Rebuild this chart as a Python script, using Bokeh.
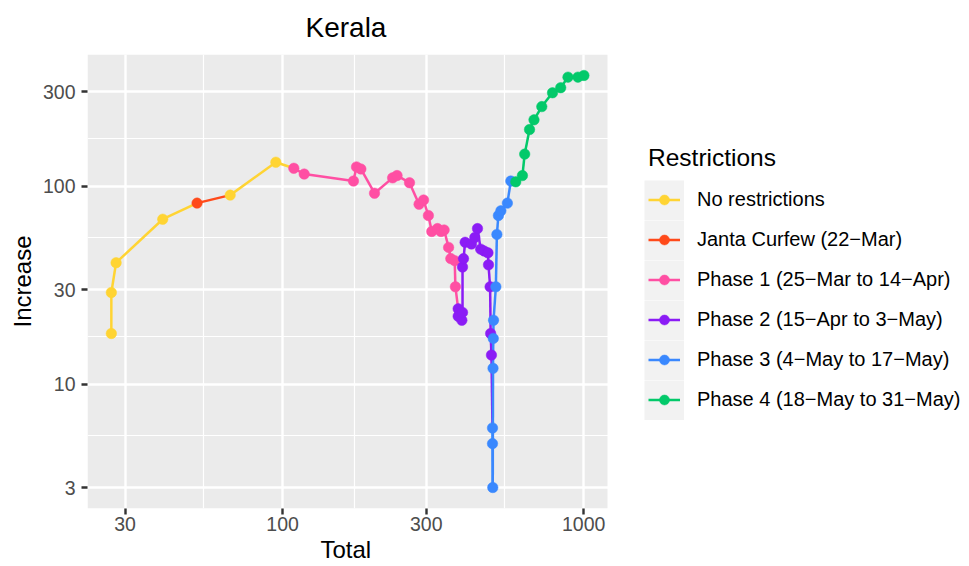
import math
from bokeh.plotting import figure
from bokeh.models import (FixedTicker, Legend, LegendItem, NumeralTickFormatter,
                          Range1d, ColumnDataSource, BoxAnnotation, Title)
from bokeh.embed import file_html
from bokeh.resources import INLINE

# ---- data -------------------------------------------------------------
phase_labels = [
    "No restrictions",
    "Janta Curfew (22\u2212Mar)",
    "Phase 1 (25\u2212Mar to 14\u2212Apr)",
    "Phase 2 (15\u2212Apr to 3\u2212May)",
    "Phase 3 (4\u2212May to 17\u2212May)",
    "Phase 4 (18\u2212May to 31\u2212May)",
]
phase_colors = ["#FFD433", "#FF4A1A", "#FF4FA3", "#8B1CF5", "#3A88FE", "#03C96A"]

total = [27, 27, 28, 40, 52, 67, 95,
         109, 118, 172, 176, 182, 202, 232, 240, 264, 284, 294, 305, 313, 327,
         336, 344, 356, 362, 373, 375,
         383, 383, 394, 396, 396, 399, 404, 424, 435, 444, 455, 467, 481, 483,
         489, 491, 494,
         498, 498, 499, 500, 501, 502, 511, 515, 521, 531, 558, 573,
         595, 626, 637, 661, 684, 726, 788, 839, 887, 957, 1002]
increase = [18, 29, 41, 68, 82, 90, 132,
            123, 115, 106, 125, 122, 92, 110, 113, 104, 81, 85, 71, 59, 61,
            59, 60, 49, 43, 42, 31,
            24, 22, 21, 23, 39, 43, 52, 51, 55, 61, 48, 47, 46, 40,
            31, 18, 14,
            6, 5, 3, 12, 17, 21, 31, 57, 71, 75, 82, 106,
            105, 113, 145, 193, 216, 252, 296, 314, 355, 355, 362]
phase = [0, 0, 0, 0, 1, 0, 0,
         2, 2, 2, 2, 2, 2, 2, 2, 2, 2, 2, 2, 2, 2, 2, 2, 2, 2, 2, 2,
         3, 3, 3, 3, 3, 3, 3, 3, 3, 3, 3, 3, 3, 3, 3, 3, 3,
         4, 4, 4, 4, 4, 4, 4, 4, 4, 4, 4, 4,
         5, 5, 5, 5, 5, 5, 5, 5, 5, 5, 5]

x_ticks = [30, 100, 300, 1000]
x_minor = [54.77, 173.2, 547.7]
y_ticks = [3, 10, 30, 100, 300]
y_minor = [5.477, 17.32, 54.77, 173.2]

FONT = "Liberation Sans"

# ---- layout geometry ----------------------------------------------------
W, H = 969, 566
LEFT, TOP, BOTTOM = 87, 54, 58
PANEL_W = 520                      # width of the grey data panel
X_START, X_END_PANEL = 22.5, 1200  # data limits of the grey panel
Y_START, Y_END = 2.35, 462
frame_w = W - LEFT
x_end = 10 ** (math.log10(X_START) + math.log10(X_END_PANEL / X_START) * frame_w / PANEL_W)

p = figure(width=W, height=H, x_axis_type="log", y_axis_type="log",
           x_range=Range1d(X_START, x_end), y_range=Range1d(Y_START, Y_END),
           output_backend="svg", toolbar_location=None,
           min_border_left=LEFT, min_border_right=0,
           min_border_top=TOP, min_border_bottom=BOTTOM)
p.background_fill_color = "white"
p.border_fill_color = "white"
p.outline_line_color = None

# grey plotting panel
p.add_layout(BoxAnnotation(left=X_START, right=X_END_PANEL, fill_color="#EBEBEB",
                           fill_alpha=1, line_color=None, level="image"))

p.title.text = "Kerala"
p.title.align = "left"
p.title.offset = 218
p.title.vertical_align = "top"
p.title.text_font = FONT
p.title.text_font_size = "28px"
p.title.text_font_style = "normal"
p.title.text_color = "black"
p.title.standoff = 20

xt = FixedTicker(ticks=x_ticks, minor_ticks=x_minor)
yt = FixedTicker(ticks=y_ticks, minor_ticks=y_minor)
p.xaxis.ticker = xt
p.yaxis.ticker = yt
p.xgrid.ticker = xt
p.ygrid.ticker = yt
for ax in (p.xaxis, p.yaxis):
    ax.formatter = NumeralTickFormatter(format="0")
    ax.axis_line_color = None
    ax.major_tick_line_color = "#333333"
    ax.major_tick_line_width = 2.4
    ax.major_tick_out = 6
    ax.major_tick_in = 0
    ax.minor_tick_line_color = None
    ax.major_label_text_font = FONT
    ax.major_label_text_font_size = "19.5px"
    ax.major_label_text_color = "#4D4D4D"
    ax.axis_label_text_font = FONT
    ax.axis_label_text_font_size = "24px"
    ax.axis_label_text_font_style = "normal"
    ax.axis_label_text_color = "black"
p.yaxis.axis_label = "Increase"
p.xaxis.major_label_standoff = 2
p.yaxis.major_label_standoff = 6
p.yaxis.axis_label_standoff = 4

# x-axis title, centred under the grey panel
p.add_layout(Title(text="Total", align="left", offset=233, vertical_align="bottom",
                   standoff=0, text_font=FONT, text_font_size="24px",
                   text_font_style="normal", text_color="black"), "below")

for g in (p.xgrid, p.ygrid):
    g.grid_line_color = "white"
    g.grid_line_width = 2.4
    g.minor_grid_line_color = "white"
    g.minor_grid_line_width = 1.2

# ---- path segments (colour of the starting point) ---------------------
seg_renderers = []
for k, col in enumerate(phase_colors):
    idx = [i for i in range(len(total) - 1) if phase[i] == k]
    src = ColumnDataSource(dict(
        x0=[total[i] for i in idx], y0=[increase[i] for i in idx],
        x1=[total[i + 1] for i in idx], y1=[increase[i + 1] for i in idx]))
    r = p.segment(x0="x0", y0="y0", x1="x1", y1="y1", source=src,
                  line_color=col, line_width=2.5)
    seg_renderers.append(r)

pt_renderers = []
for k, col in enumerate(phase_colors):
    idx = [i for i in range(len(total)) if phase[i] == k]
    src = ColumnDataSource(dict(x=[total[i] for i in idx],
                                y=[increase[i] for i in idx]))
    r = p.scatter(x="x", y="y", source=src, size=10.5, fill_color=col,
                  line_color=col, line_width=0.5)
    pt_renderers.append(r)

# ---- legend -------------------------------------------------------------
# grey95 key background: a separate legend of 40x40 bands drawn underneath
key_bg = p.segment(x0=[X_START], y0=[Y_END * 100], x1=[X_START], y1=[Y_END * 200],
                   line_color="#F2F2F2", line_width=40)
bg_legend = Legend(items=[LegendItem(label=" ", renderers=[key_bg]) for _ in phase_labels],
                   location=(557, 88), glyph_width=40, glyph_height=40, spacing=0,
                   padding=0, margin=0, label_standoff=0, label_text_font_size="1px",
                   background_fill_alpha=0, border_line_color=None)
p.add_layout(bg_legend)

legend = Legend(items=[LegendItem(label=lab,
                                  renderers=[seg_renderers[k], pt_renderers[k]])
                       for k, lab in enumerate(phase_labels)],
                title="Restrictions", location=(561, 96),
                glyph_width=32, glyph_height=25, spacing=15, padding=0, margin=0,
                label_standoff=17, label_text_font=FONT, label_text_font_size="20px",
                label_text_color="black",
                title_text_font=FONT, title_text_font_size="24.5px",
                title_text_font_style="normal", title_text_color="black",
                title_standoff=15, background_fill_alpha=0, border_line_color=None)
p.add_layout(legend)

open("out.html", "w").write(file_html(p, INLINE))
